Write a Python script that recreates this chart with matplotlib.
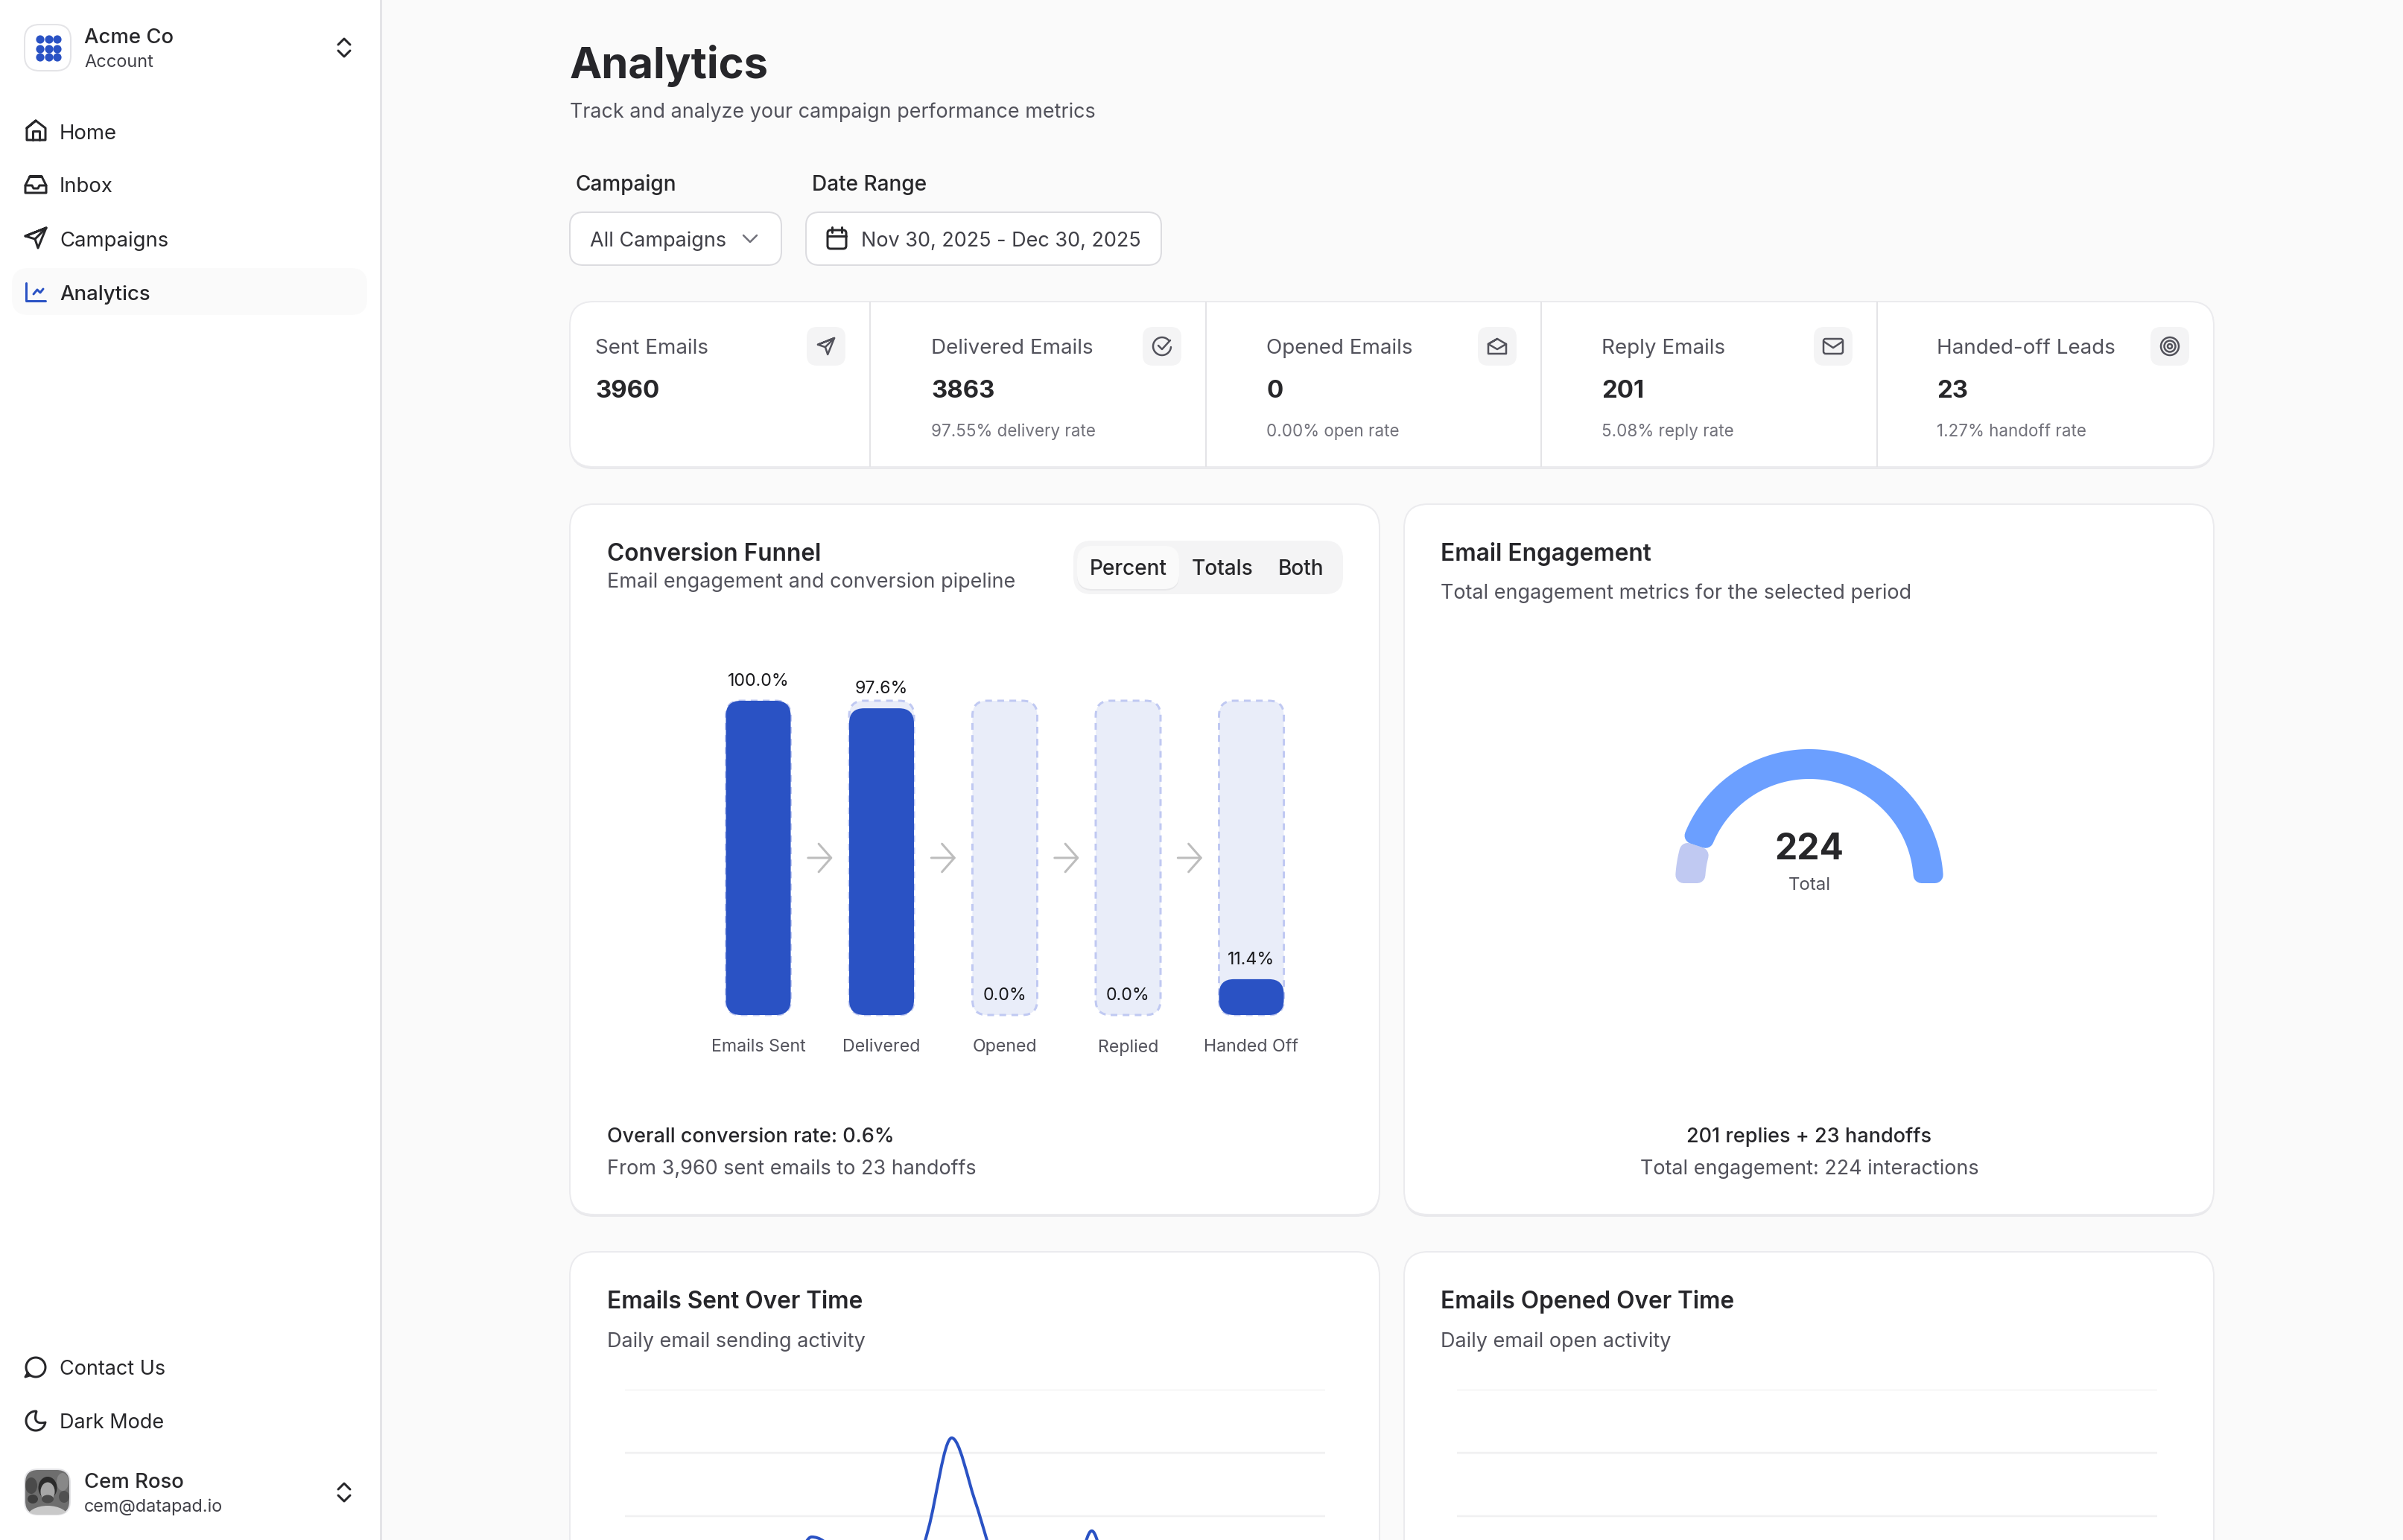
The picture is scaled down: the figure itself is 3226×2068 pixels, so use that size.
#!/usr/bin/env python3
"""Analytics dashboard screenshot rebuilt with matplotlib."""

import matplotlib
matplotlib.use("Agg")
import matplotlib.pyplot as plt
import numpy as np
from matplotlib.patches import Circle, Ellipse, FancyBboxPatch, PathPatch, Polygon
from matplotlib.path import Path

plt.rcParams["font.family"] = ["Inter", "DejaVu Sans"]

W, H = 3226, 2068
DPI = 100
PT = 72 / DPI  # one reference pixel in points

INK = "#27272a"
TITLE = "#26262a"
MUTED = "#52525b"
FAINT = "#71717a"
BORDER = "#e4e4e7"
BLUE = "#2a52c4"

nav_top = ["Home", "Inbox", "Campaigns", "Analytics"]
nav_bottom = ["Contact Us", "Dark Mode"]

stat_labels = ["Sent Emails", "Delivered Emails", "Opened Emails", "Reply Emails", "Handed-off Leads"]
stat_values = [3960, 3863, 0, 201, 23]
stat_notes = ["", "97.55% delivery rate", "0.00% open rate", "5.08% reply rate", "1.27% handoff rate"]

funnel_stages = ["Emails Sent", "Delivered", "Opened", "Replied", "Handed Off"]
funnel_percent = [100.0, 97.6, 0.0, 0.0, 11.4]

engagement_values = [201, 23]
engagement_colors = ["#6b9fff", "#c0c9f2"]

sent_daily = [20, 35, 10, 60, 25, 15, 40, 220, 418, 355, 30, 70, 150, 450,
              809, 560, 260, 45, 60, 130, 442, 120, 40, 25, 35, 20, 15, 30, 10, 25, 20]
opened_daily = [0] * 31
grid_ticks = [0, 250, 500, 750, 1000]

fig = plt.figure(figsize=(W / DPI, H / DPI), dpi=DPI, facecolor="#fafafa")


def px_axes(x0, y0, x1, y1, zorder=2):
    a = fig.add_axes([x0 / W, 1 - y1 / H, (x1 - x0) / W, (y1 - y0) / H], zorder=zorder)
    a.patch.set_alpha(0)
    return a


bg = px_axes(0, 0, W, H, zorder=1)
bg.set_xlim(0, W)
bg.set_ylim(H, 0)
bg.axis("off")


def label(x, y, s, size=27, color=INK, weight="normal", ha="left", ax=None):
    # y is the middle of the capitals, so sit the baseline below it
    (ax or bg).text(x, y + 0.36 * size, s, fontsize=size * PT, color=color,
                    fontweight=weight, ha=ha, va="baseline")


def box(x0, y0, x1, y1, r, face="white", edge="none", lw=0, zorder=1):
    bg.add_patch(FancyBboxPatch((x0, y0), x1 - x0, y1 - y0,
                                boxstyle=f"round,pad=0,rounding_size={r}",
                                fc=face, ec=edge, lw=lw * PT, zorder=zorder))


def stroke(pts, color=INK, lw=3, closed=False, zorder=3):
    pts = np.asarray(pts, dtype=float)
    if closed:
        pts = np.vstack([pts, pts[:1], pts[1:2]])
    bg.plot(pts[:, 0], pts[:, 1], color=color, lw=lw * PT, solid_joinstyle="round",
            solid_capstyle="round", zorder=zorder)


def card(x0, y0, x1, y1, r=32):
    box(x0, y0 + 3, x1, y1 + 3, r, face="#e9e9ec")
    box(x0, y0, x1, y1, r, face="white", edge="#ebebee", lw=2)


def chevrons(cx, cy):
    stroke([(cx - 8, cy - 4), (cx, cy - 12), (cx + 8, cy - 4)], lw=3)
    stroke([(cx - 8, cy + 4), (cx, cy + 12), (cx + 8, cy + 4)], lw=3)


def arc(cx, cy, r, a0, a1, n=60):
    t = np.radians(np.linspace(a0, a1, n))
    return np.column_stack([cx + r * np.cos(t), cy - r * np.sin(t)])


def plane(cx, cy, s, color=INK, lw=3):
    stroke([(cx + s, cy - s), (cx - s, cy - 0.2 * s), (cx - 0.1 * s, cy + 0.1 * s), (cx + 0.2 * s, cy + s)],
           color, lw, closed=True, zorder=4)
    stroke([(cx - 0.1 * s, cy + 0.1 * s), (cx + s, cy - s)], color, lw, zorder=4)


# sidebar
bg.add_patch(plt.Rectangle((0, 0), 510, H, fc="white", ec="none", zorder=0.5))
bg.plot([511, 511], [0, H], color=BORDER, lw=3 * PT, zorder=0.6)
box(16, 360, 493, 423, 22, face="#fafafa")

box(33, 33, 95, 95, 20, face="white", edge=BORDER, lw=2)
for gy in (53, 66, 77):
    for gx in (54, 66, 77):
        bg.add_patch(Circle((gx, gy), 5.6, fc=BLUE, ec="none", zorder=3))
label(113, 48, "Acme Co", 27.5, weight="medium")
label(113, 82, "Account", 23.5, color="#3f3f46")
chevrons(462, 64)

for name, y in zip(nav_top, (177, 248, 321, 393)):
    label(80, y, name, 27.5, weight="medium" if name == "Analytics" else "normal")

stroke([(36, 172), (48, 162), (61, 172), (61, 188), (36, 188)], closed=True)
stroke([(44, 188), (44, 176), (53, 176), (53, 188)])
stroke([(40, 237), (56, 237), (62, 249), (62, 259), (34, 259), (34, 249)], closed=True)
stroke([(34, 249), (43, 249), (45, 253), (51, 253), (53, 249), (62, 249)])
stroke([(62, 306), (34, 317), (47, 321), (51, 333)], closed=True)
stroke([(47, 321), (62, 306)])
stroke([(35, 380), (35, 404), (61, 404)], color=BLUE)
stroke([(45, 395), (50, 389), (54, 393), (58, 388)], color=BLUE)

for name, y in zip(nav_bottom, (1836, 1908)):
    label(80, y, name, 27)
stroke(np.vstack([arc(48, 1836, 13, 215, 575), [(34, 1849), (40, 1847)]]))
t = np.linspace(0, 1, 30)[:, None]
moon_in = (1 - t) ** 2 * np.array([[49, 1895.5]]) + 2 * t * (1 - t) * np.array([[43, 1914]]) + t ** 2 * np.array([[61, 1910]])
stroke(np.vstack([arc(48, 1908, 13, 88, 345), moon_in[::-1]]))

# avatar
tile = FancyBboxPatch((33, 1973), 61, 61, boxstyle="round,pad=0,rounding_size=18",
                      fc="#6e6e6e", ec=BORDER, lw=2 * PT, zorder=3)
bg.add_patch(tile)
avatar_parts = [
    Ellipse((42, 1995), 16, 22, fc="#4a4a4a", ec="none", zorder=4),
    Ellipse((84, 1990), 16, 24, fc="#888888", ec="none", zorder=4),
    Ellipse((86, 2010), 14, 16, fc="#505050", ec="none", zorder=4),
    Ellipse((44, 2013), 14, 12, fc="#3e3e3e", ec="none", zorder=4),
    Ellipse((64, 2038), 56, 32, fc="#c9c9c9", ec="none", zorder=4),
    Ellipse((64, 1998), 25, 30, fc="#2a2a2a", ec="none", zorder=4),
    Ellipse((64, 2003), 19, 25, fc="#a6a6a6", ec="none", zorder=5),
    Ellipse((64, 2013), 16, 11, fc="#4a4a4a", ec="none", zorder=6),
]
for part in avatar_parts:
    bg.add_patch(part)
    part.set_clip_path(tile)
label(113, 1988, "Cem Roso", 27.5, weight="medium")
label(113, 2022, "cem@datapad.io", 23.4, color="#3f3f46")
chevrons(462, 2004)

# page header and filters
label(765, 84, "Analytics", 58, color=TITLE, weight="bold")
label(765, 148, "Track and analyze your campaign performance metrics", 26.9, color=MUTED)
label(773, 246, "Campaign", 28, weight="medium")
label(1090, 246, "Date Range", 28, weight="medium")

box(765, 285, 1049, 356, 18, face="white", edge="#dcdce0", lw=2)
label(792, 321, "All Campaigns", 27, color="#3f3f46")
stroke([(998, 316), (1007, 325), (1016, 316)], color=FAINT, lw=2.5)
box(1082, 285, 1559, 356, 18, face="white", edge="#dcdce0", lw=2)
box(1111, 309, 1136, 334, 4, face="white", edge=INK, lw=3, zorder=3)
stroke([(1111, 317), (1136, 317)], lw=3)
stroke([(1117, 305), (1117, 312)], lw=3)
stroke([(1130, 305), (1130, 312)], lw=3)
label(1156, 321, "Nov 30, 2025 - Dec 30, 2025", 27, color="#3f3f46")

# stat strip
card(765, 405, 2972, 627)
for x in (1168, 1619, 2069, 2520):
    bg.plot([x, x], [406, 626], color=BORDER, lw=2 * PT, zorder=2)
stat_x = [799, 1250, 1700, 2150, 2600]
icon_x = [1109, 1560, 2010, 2461, 2913]
for x, ix, name, value, note in zip(stat_x, icon_x, stat_labels, stat_values, stat_notes):
    label(x, 465, name, 27.8, color=MUTED)
    label(x, 522, str(value), 33, color=INK, weight="bold")
    if note:
        label(x, 578, note, 22.4, color=FAINT)
    box(ix - 26, 439, ix + 26, 491, 14, face="#f4f4f5", zorder=2)

plane(icon_x[0], 465, 11, MUTED, 2.5)
stroke(arc(icon_x[1], 465, 12, 40, 355), MUTED, 2.5, zorder=4)
stroke([(icon_x[1] - 5, 464), (icon_x[1], 469), (icon_x[1] + 11, 457)], MUTED, 2.5, zorder=4)
ox = icon_x[2]
stroke([(ox - 12, 462), (ox, 455), (ox + 12, 462), (ox + 12, 475), (ox - 12, 475)], MUTED, 2.5, closed=True, zorder=4)
stroke([(ox - 12, 462), (ox, 469), (ox + 12, 462)], MUTED, 2.5, zorder=4)
mx = icon_x[3]
box(mx - 13, 455, mx + 13, 475, 3, face="#f4f4f5", edge=MUTED, lw=2.5, zorder=3)
stroke([(mx - 12, 459), (mx, 467), (mx + 12, 459)], MUTED, 2.5, zorder=4)
for r in (12, 7.5, 3):
    bg.add_patch(Circle((icon_x[4], 465), r, fc="none", ec=MUTED, lw=2.5 * PT, zorder=4))

# cards
card(765, 677, 1852, 1631)
card(1885, 677, 2972, 1631)
card(765, 1681, 1852, H + 60)
card(1885, 1681, 2972, H + 60)

label(815, 742, "Conversion Funnel", 31.6, color=TITLE, weight="semibold")
label(815, 779, "Email engagement and conversion pipeline", 27, color=MUTED)
box(1441, 726, 1803, 798, 24, face="#f4f4f5", zorder=2)
box(1446, 735, 1583, 793, 20, face="#e8e8ea", zorder=2)
box(1446, 733, 1583, 791, 20, face="#fafafa", zorder=2)
for name, x in zip(("Percent", "Totals", "Both"), (1515, 1641, 1747)):
    label(x, 762, name, 28, ha="center", weight="medium")
label(815, 1524, "Overall conversion rate: 0.6%", 27, color=TITLE, weight="medium")
label(815, 1567, "From 3,960 sent emails to 23 handoffs", 27, color=MUTED)

label(1934, 742, "Email Engagement", 31.6, color=TITLE, weight="semibold")
label(1934, 794, "Total engagement metrics for the selected period", 27, color=MUTED)
label(2429, 1524, "201 replies + 23 handoffs", 27, color=TITLE, weight="medium", ha="center")
label(2429, 1567, "Total engagement: 224 interactions", 27, color=MUTED, ha="center")

label(815, 1746, "Emails Sent Over Time", 31.6, color=TITLE, weight="semibold")
label(815, 1799, "Daily email sending activity", 27, color=MUTED)
label(1934, 1746, "Emails Opened Over Time", 31.6, color=TITLE, weight="semibold")
label(1934, 1799, "Daily email open activity", 27, color=MUTED)

# funnel bars
STEP, BAR_W, BAR_TOP, BAR_BOT = 165.5, 87, 941, 1363
ax = px_axes(1018 - 0.75 * STEP, BAR_TOP, 1018 + 4.75 * STEP, BAR_BOT)
ax.set_xlim(-0.75, 4.75)
ax.set_ylim(0, 100)
bw = BAR_W / STEP
aspect = (100 / (BAR_BOT - BAR_TOP)) * STEP
rnd = 20 / STEP


def rounded_bar(i, height, **kw):
    ax.add_patch(FancyBboxPatch((i - bw / 2, 0), bw, height, mutation_aspect=aspect,
                                boxstyle=f"round,pad=0,rounding_size={rnd}", clip_on=False, **kw))


for i, pct in enumerate(funnel_percent):
    rounded_bar(i, 100, fc="#e9edf9", ec="#c0c9f2", lw=3 * PT, ls=(0, (3, 2.4)), zorder=1)
    if pct > 0:
        rounded_bar(i, pct, fc=BLUE, ec="none", zorder=2)
    ax.annotate(f"{pct:.1f}%", (i, pct), xytext=(0, 26 * PT), textcoords="offset points",
                ha="center", va="center", fontsize=23.2 * PT, color="#18181b", zorder=3)
    if i < len(funnel_percent) - 1:
        xx = i + 0.5
        ax.annotate("", (xx + 17 / STEP, 50), xytext=(xx - 16 / STEP, 50),
                    arrowprops=dict(arrowstyle="->,head_length=0.75,head_width=0.85", color="#bdbdbd",
                                    lw=3 * PT, shrinkA=0, shrinkB=0, mutation_scale=16))
ax.set_xticks(range(len(funnel_stages)), funnel_stages)
ax.tick_params(axis="x", length=0, pad=32 * PT, labelsize=23.2 * PT, labelcolor=MUTED)
ax.set_yticks([])
for s in ax.spines.values():
    s.set_visible(False)

# gauge
GX, GY, R_OUT, R_IN = 2429, 1186, 180, 140
g = px_axes(GX - 200, GY - 200, GX + 200, GY + 40)
g.set_xlim(-200, 200)
g.set_ylim(-40, 200)
g.axis("off")


def sector(a0, a1, color, zorder, cr=11):
    # inset the outline and stroke it thick, which rounds the corners
    ro, ri = R_OUT - cr, R_IN + cr
    da_o, da_i = np.degrees(cr / ro), np.degrees(cr / ri)
    outer = np.radians(np.linspace(a0 + da_o, a1 - da_o, 120))
    inner = np.radians(np.linspace(a1 - da_i, a0 + da_i, 120))
    pts = np.vstack([np.column_stack([ro * np.cos(outer), ro * np.sin(outer)]),
                     np.column_stack([ri * np.cos(inner), ri * np.sin(inner)])])
    g.add_patch(Polygon(pts, closed=True, fc=color, ec=color, lw=2 * cr * PT, joinstyle="round", zorder=zorder))


total = sum(engagement_values)
start = 0
for value, color, z in zip(engagement_values, engagement_colors, (3, 2)):
    end = start + 180 * value / total
    sector(start, end, color, z)
    start = end
label(GX, 1137, str(total), 48, color=INK, weight="bold", ha="center")
label(GX, 1186, "Total", 24, color=MUTED, ha="center")


def monotone_path(xs, ys):
    # same curve as a monotone-x line in a web chart
    xs, ys = np.asarray(xs, float), np.asarray(ys, float)
    h = np.diff(xs)
    s = np.diff(ys) / h
    m = np.zeros_like(ys)
    for k in range(1, len(ys) - 1):
        if s[k - 1] * s[k] > 0:
            p = (s[k - 1] * h[k] + s[k] * h[k - 1]) / (h[k - 1] + h[k])
            m[k] = (np.sign(s[k - 1]) + np.sign(s[k])) * min(abs(s[k - 1]), abs(s[k]), 0.5 * abs(p))
    m[0], m[-1] = s[0], s[-1]
    verts, codes = [(xs[0], ys[0])], [Path.MOVETO]
    for k in range(len(h)):
        verts += [(xs[k] + h[k] / 3, ys[k] + m[k] * h[k] / 3),
                  (xs[k + 1] - h[k] / 3, ys[k + 1] - m[k + 1] * h[k] / 3),
                  (xs[k + 1], ys[k + 1])]
        codes += [Path.CURVE4] * 3
    return Path(verts, codes)


def line_chart(x0, x1, series):
    a = px_axes(x0, 1866, x1, 2206)
    a.set_xlim(0, len(series) - 1)
    a.set_ylim(grid_ticks[0], grid_ticks[-1])
    a.set_yticks(grid_ticks, [""] * len(grid_ticks))
    a.set_xticks([])
    a.grid(axis="y", color="#f0f0f1", lw=2.5 * PT)
    a.tick_params(length=0)
    for s in a.spines.values():
        s.set_visible(False)
    a.set_axisbelow(True)
    a.add_patch(PathPatch(monotone_path(range(len(series)), series), fc="none", ec=BLUE, lw=4 * PT))


line_chart(839, 1779, sent_daily)
line_chart(1956, 2896, opened_daily)

fig.savefig("out.png", dpi=DPI, facecolor=fig.get_facecolor())
